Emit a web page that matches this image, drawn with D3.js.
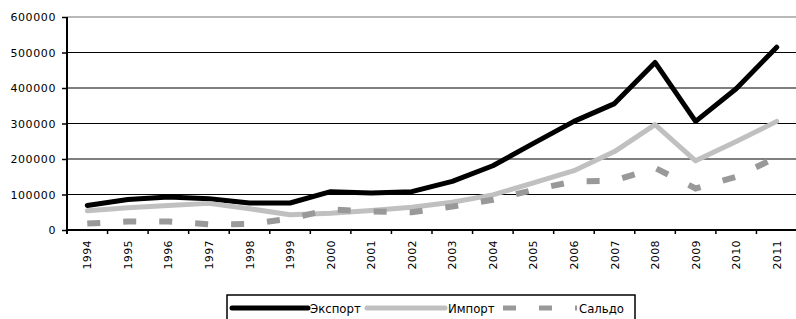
<!DOCTYPE html>
<html>
<head>
<meta charset="utf-8">
<script src="https://cdn.jsdelivr.net/npm/d3@7"></script>
<style>
  body { margin: 0; background: #fff; }
  svg { display: block; }
</style>
</head>
<body>
<div id="chart"></div>
<script>
const years = ["1994", "1995", "1996", "1997", "1998", "1999", "2000", "2001", "2002",
               "2003", "2004", "2005", "2006", "2007", "2008", "2009", "2010", "2011"];
const exportVals = [69000, 86000, 93000, 88000, 76000, 76000, 108000, 104000, 108000,
                    137000, 181000, 244000, 306000, 356000, 472000, 306000, 398000, 515000];
const importVals = [54000, 63000, 69000, 75000, 60000, 43000, 47000, 55000, 64000,
                    78000, 99000, 133000, 167000, 221000, 297000, 195000, 249000, 306000];
const saldoVals = [18000, 24000, 24000, 16000, 17000, 32000, 58000, 52000, 50000,
                   66000, 85000, 113000, 137000, 139000, 175000, 117000, 150000, 205000];
const yTicks = [0, 100000, 200000, 300000, 400000, 500000, 600000];
const seriesNames = ["Экспорт", "Импорт", "Сальдо"];

const W = 796, H = 319;
const margin = { top: 17, right: -1, bottom: 89, left: 67 };
const width = W - margin.left - margin.right;
const height = H - margin.top - margin.bottom;

const svg = d3.select("#chart").append("svg")
    .attr("width", W)
    .attr("height", H);

const g = svg.append("g")
    .attr("transform", `translate(${margin.left},${margin.top})`);

const x = d3.scaleBand().domain(years).range([0, width]);
const y = d3.scaleLinear().domain([0, 600000]).range([height, 0]);

// gridlines
g.selectAll("line.grid")
    .data(yTicks.filter(d => d > 0))
    .join("line")
    .attr("class", "grid")
    .attr("x1", 0).attr("x2", width)
    .attr("y1", d => y(d)).attr("y2", d => y(d))
    .attr("stroke", d => d === 600000 ? "#a0a0a0" : "#000")
    .attr("stroke-width", d => d === 600000 ? 1.5 : 1.2);

// y axis
const yAxis = g.append("g")
    .call(d3.axisLeft(y).tickValues(yTicks).tickFormat(d3.format("d")).tickSize(5).tickPadding(6));
yAxis.select(".domain").attr("stroke-width", 2).attr("d", `M0,${height + 4}V0`);
yAxis.selectAll(".tick line").attr("stroke-width", 1.5);
yAxis.selectAll("text")
    .attr("font-family", "DejaVu Sans, Verdana, sans-serif")
    .attr("font-size", 11)
    .attr("letter-spacing", 0.6)
    .attr("fill", "#000");

// x axis, ticks between categories
const xAxis = g.append("g").attr("transform", `translate(0,${height})`);
xAxis.append("line")
    .attr("x1", 0).attr("x2", width)
    .attr("stroke", "#000").attr("stroke-width", 2);
xAxis.selectAll("line.xt")
    .data(years)
    .join("line")
    .attr("class", "xt")
    .attr("x1", d => x(d) + x.bandwidth()).attr("x2", d => x(d) + x.bandwidth())
    .attr("y1", 0).attr("y2", 4)
    .attr("stroke", "#000").attr("stroke-width", 1.5);
xAxis.selectAll("text")
    .data(years)
    .join("text")
    .attr("transform", d => `translate(${x(d) + x.bandwidth() / 2 + 4},10) rotate(-90)`)
    .attr("text-anchor", "end")
    .attr("font-family", "DejaVu Sans, Verdana, sans-serif")
    .attr("font-size", 11)
    .attr("letter-spacing", 0.4)
    .text(d => d);

const line = d3.line()
    .x((d, i) => x(years[i]) + x.bandwidth() / 2)
    .y(d => y(d));

g.append("path")
    .datum(exportVals)
    .attr("d", line)
    .attr("fill", "none")
    .attr("stroke", "#000")
    .attr("stroke-width", 5)
    .attr("stroke-linejoin", "round")
    .attr("stroke-linecap", "round");

g.append("path")
    .datum(importVals)
    .attr("d", line)
    .attr("fill", "none")
    .attr("stroke", "#c0c0c0")
    .attr("stroke-width", 5)
    .attr("stroke-linejoin", "round")
    .attr("stroke-linecap", "round");

g.append("path")
    .datum(saldoVals)
    .attr("d", line)
    .attr("fill", "none")
    .attr("stroke", "#999")
    .attr("stroke-width", 6)
    .attr("stroke-dasharray", "13,23")
    .attr("stroke-linecap", "butt");

// legend
const legend = svg.append("g").attr("transform", "translate(227,295)");
legend.append("rect")
    .attr("x", 0).attr("y", 0)
    .attr("width", 408).attr("height", 40)
    .attr("fill", "#fff")
    .attr("stroke", "#000")
    .attr("stroke-width", 1.5);

const legItems = [
    { name: seriesNames[0], x0: 5, x1: 81, tx: 83, color: "#000", dash: null, cap: "round", w: 5 },
    { name: seriesNames[1], x0: 140, x1: 218, tx: 221, color: "#c0c0c0", dash: null, cap: "round", w: 5 },
    { name: seriesNames[2], x0: 276, x1: 350, tx: 352, color: "#999", dash: "13,23", cap: "butt", w: 5 }
];
const li = legend.selectAll("g.item").data(legItems).join("g").attr("class", "item");
li.append("line")
    .attr("x1", d => d.x0).attr("x2", d => d.x1)
    .attr("y1", 13).attr("y2", 13)
    .attr("stroke", d => d.color)
    .attr("stroke-width", d => d.w)
    .attr("stroke-linecap", d => d.cap)
    .attr("stroke-dasharray", d => d.dash);
li.append("text")
    .attr("x", d => d.tx).attr("y", 18)
    .attr("font-family", "Liberation Sans Narrow, DejaVu Sans Condensed, Arial Narrow, sans-serif")
    .attr("font-size", 13)
    .text(d => d.name);
</script>
</body>
</html>
